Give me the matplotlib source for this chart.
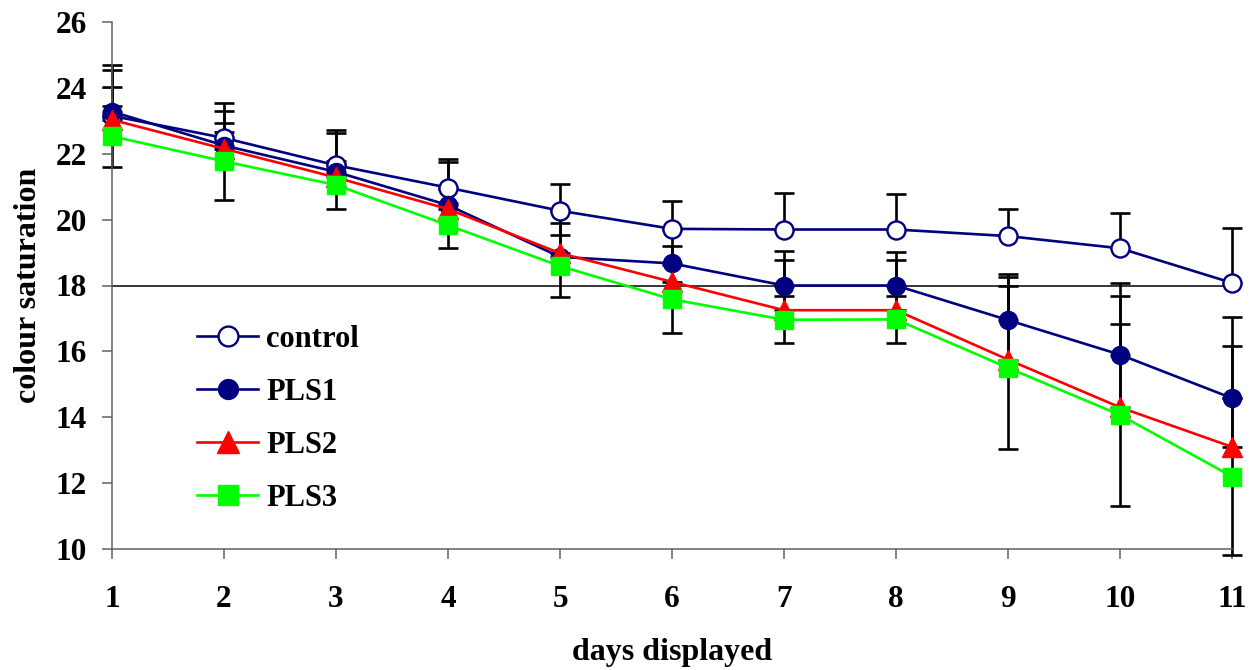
#! /usr/bin/env python3

import numpy as np
import matplotlib
matplotlib.use("Agg")
import matplotlib.pyplot as plt

days = [1, 2, 3, 4, 5, 6, 7, 8, 9, 10, 11]

# mean colour saturation per series
control = [23.15, 22.48, 21.65, 20.97, 20.27, 19.72, 19.70, 19.70, 19.50, 19.13, 18.08]
pls1 = [23.28, 22.25, 21.45, 20.44, 18.87, 18.67, 18.00, 18.00, 16.95, 15.90, 14.58]
pls2 = [23.03, 22.15, 21.28, 20.32, 18.98, 18.11, 17.25, 17.25, 15.75, 14.30, 13.10]
pls3 = [22.53, 21.77, 21.05, 19.83, 18.59, 17.58, 16.96, 16.97, 15.50, 14.07, 12.20]

# error bars (control, PLS1, PLS2 upper only, PLS3 both ways)
control_err = [1.54, 1.07, 1.06, 0.87, 0.80, 0.85, 1.10, 1.09, 0.81, 1.07, 1.66]
pls1_err = [1.27, 1.05, 1.19, 1.30, 1.02, 0.53, 1.04, 1.03, 1.39, 2.19, 2.47]
pls2_err = [1.00, 0.50, 0.40, 0.60, 1.30, 1.60, 1.52, 1.52, 2.51, 3.39, 3.07]
pls3_err = [0.93, 1.16, 0.74, 0.68, 0.93, 1.03, 0.71, 0.72, 2.47, 2.76, 2.38]

threshold = 18

plt.rcParams['font.family'] = ['Liberation Serif', 'DejaVu Serif']
plt.rcParams['font.weight'] = 'bold'

fig = plt.figure(figsize=(12.56, 6.70), dpi=100)
ax = fig.add_axes([112/1256, 1-549/670, 1120/1256, 527/670])

navy = '#000080'
ebkw = dict(fmt='none', ecolor='black', elinewidth=1.9, capsize=7, capthick=1.9,
            zorder=2, clip_on=False)
zeros = np.zeros(len(days))
ax.errorbar(days, control, yerr=[zeros, control_err], **ebkw)
ax.errorbar(days, pls1, yerr=[zeros, pls1_err], **ebkw)
ax.errorbar(days, pls2, yerr=[zeros, pls2_err], **ebkw)
ax.errorbar(days, pls3, yerr=[pls3_err, pls3_err], **ebkw)

ax.axhline(threshold, color='black', lw=1.1, zorder=1.5)

ax.plot(days, control, '-o', color=navy, lw=1.9, ms=13, mfc='white', mec=navy,
        mew=1.7, label='control', zorder=3, clip_on=False)
ax.plot(days, pls1, '-o', color=navy, lw=1.9, ms=13, mfc=navy, mec=navy,
        label='PLS1', zorder=4, clip_on=False)
ax.plot(days, pls2, '-^', color='#ff0000', lw=1.9, ms=14, mfc='#ff0000', mec='#ff0000',
        label='PLS2', zorder=5, clip_on=False)
ax.plot(days, pls3, '-s', color='#00ff00', lw=1.9, ms=13, mfc='#00ff00', mec='#00ff00',
        label='PLS3', zorder=6, clip_on=False)

ax.set_xlim(1, 11)
ax.set_ylim(10, 26)
ax.set_xticks(days)
ax.set_yticks(np.arange(10, 27, 2))

for side in ['top', 'right']:
    ax.spines[side].set_visible(False)
for side in ['left', 'bottom']:
    ax.spines[side].set_color('#606060')
    ax.spines[side].set_linewidth(1.1)
ax.tick_params(axis='both', direction='out', length=7, width=1.1, color='#606060',
               labelsize=22.5)
ax.tick_params(axis='x', pad=19)
ax.tick_params(axis='y', pad=11)

ax.set_xlabel('days displayed', fontsize=23, fontweight='bold', labelpad=17)
ax.set_ylabel('colour saturation', fontsize=23, fontweight='bold', labelpad=9)

ax.legend(loc='center left', bbox_to_anchor=(0.076, 0.247), frameon=False,
          fontsize=22, handlelength=2.0, handletextpad=0.26, labelspacing=0.78,
          borderpad=0, borderaxespad=0, markerscale=1.1)

fig.savefig('out.png', dpi=100)
